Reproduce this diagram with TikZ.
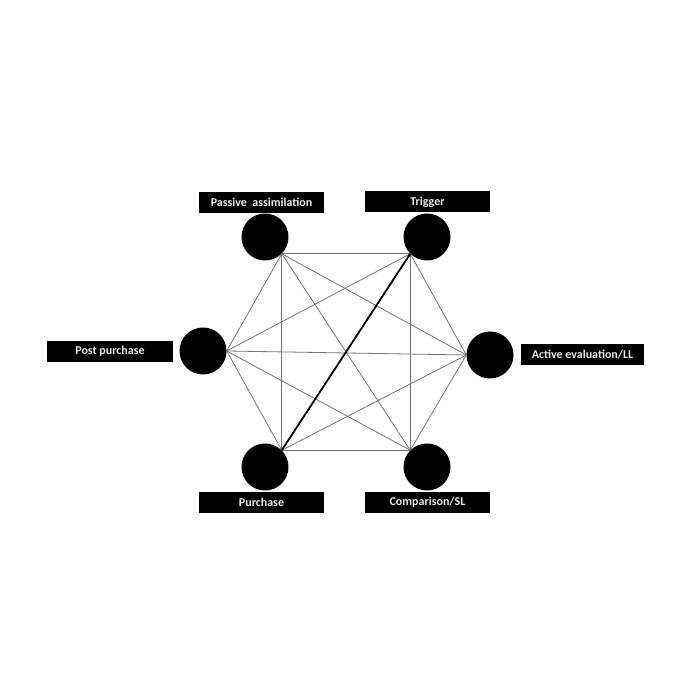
\documentclass[tikz,border=0pt]{standalone}
\usepackage{fontspec}
\setmainfont{Carlito}
\begin{document}
\begin{tikzpicture}[x=1pt,y=1pt,
  dot/.style={circle,fill=black,inner sep=0pt,minimum size=47pt},
  lbl/.style={fill=black,text=white!92!black,inner sep=0pt,minimum height=21pt,font=\bfseries\fontsize{12}{14}\selectfont},
  link/.style={draw=black!55,line width=0.8pt},
  strong/.style={draw=black,line width=1.8pt}]
\useasboundingbox (0,0) rectangle (700,700);
% labels
\node[lbl,minimum width=125pt] (lpa) at (261.5,497.5) {Passive\ \ assimilation};
\node[lbl,minimum width=125pt] (ltr) at (427.5,498) {Trigger};
\node[lbl,minimum width=125pt] (lpu) at (261.5,197.5) {Purchase};
\node[lbl,minimum width=125pt] (lco) at (427.5,197.5) {Comparison/SL};
\node[lbl,minimum width=126pt] (lpp) at (110,348.5) {Post purchase};
\node[lbl,minimum width=123pt] (lae) at (582.5,345.5) {Active evaluation/LL};
% circles
\node[dot] (pa) at (265,463) {};
\node[dot] (tr) at (427,463) {};
\node[dot] (pp) at (203,349) {};
\node[dot] (ae) at (490,345) {};
\node[dot] (pu) at (265,233) {};
\node[dot] (co) at (427,233) {};
% ports on the circles
\coordinate (ppa) at (pa.south east);
\coordinate (ptr) at (tr.south west);
\coordinate (ppp) at (pp.east);
\coordinate (pae) at (ae.west);
\coordinate (ppu) at (pu.north east);
\coordinate (pco) at (co.north west);
% connectors
\draw[link] (ppa) -- (ptr);
\draw[link] (ppa) -- (ppp);
\draw[link] (ppa) -- (pae);
\draw[link] (ppa) -- (ppu);
\draw[link] (ppa) -- (pco);
\draw[link] (ptr) -- (ppp);
\draw[link] (ptr) -- (pae);
\draw[link] (ptr) -- (pco);
\draw[link] (ppp) -- (pae);
\draw[link] (ppp) -- (ppu);
\draw[link] (ppp) -- (pco);
\draw[link] (pae) -- (ppu);
\draw[link] (pae) -- (pco);
\draw[link] (ppu) -- (pco);
\draw[strong] (ptr) -- (ppu);
\end{tikzpicture}
\end{document}
